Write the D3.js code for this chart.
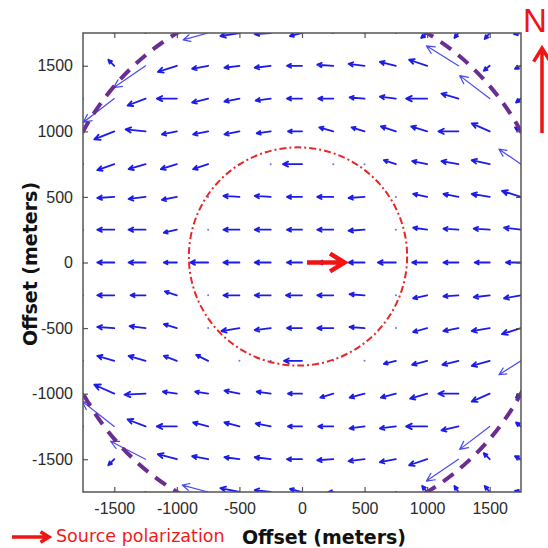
<!DOCTYPE html>
<html>
<head>
<meta charset="utf-8">
<script src="https://cdn.jsdelivr.net/npm/d3@7/dist/d3.min.js"></script>
<style>
  body { margin: 0; background: #fff; }
</style>
</head>
<body>
<div id="chart"></div>
<script>
// grid of the quiver (meters)
const xGrid = [-1750, -1500, -1250, -1000, -750, -500, -250, 0, 250, 500, 750, 1000, 1250, 1500, 1750];
const yGrid = [1750, 1500, 1250, 1000, 750, 500, 250, 0, -250, -500, -750, -1000, -1250, -1500, -1750];

// east component of each arrow (meters), one row per yGrid value
const uRows = [
  [-128, -48, -64, -80, -200, -152, -128, -96, -80, -64, -48, -48, -32, -40, -56],
  [-128, -48, -256, -152, -128, -120, -128, -120, -128, -128, -128, -144, -256, -48, -48],
  [-128, -248, -144, -160, -128, -120, -120, -120, -120, -120, -128, -168, -136, -240, -40],
  [-128, -160, -160, -120, -120, -120, -112, -112, -112, -104, -120, -128, -160, -144, -48],
  [-128, -136, -136, -128, -120, -8, -8, -152, -8, -8, -96, -120, -136, -144, -176],
  [-128, -136, -136, -120, -8, -128, -128, -120, -128, -128, -8, -112, -120, -144, -152],
  [-128, -136, -136, -104, -8, -128, -128, -120, -128, -128, -8, -112, -120, -128, -136],
  [-128, -136, -136, -104, -144, -128, -128, -120, -120, -128, -144, -120, -120, -120, -120],
  [-128, -136, -120, -96, -8, -128, -128, -128, -128, -120, -8, -112, -120, -128, -136],
  [-128, -136, -128, -104, -8, -144, -128, -120, -128, -120, -8, -112, -120, -144, -152],
  [-128, -136, -136, -104, -96, -8, -8, -144, -8, -8, -96, -120, -128, -144, -176],
  [-128, -160, -168, -112, -104, -120, -112, -112, -104, -120, -120, -136, -160, -144, -40],
  [-128, -256, -144, -160, -120, -120, -120, -112, -120, -120, -128, -168, -136, -240, -40],
  [-128, -48, -280, -152, -128, -120, -128, -120, -128, -128, -128, -144, -256, -48, -48],
  [-128, -48, -64, -80, -208, -152, -128, -96, -40, -64, -48, -40, -32, -40, -48]
];

// north component of each arrow (meters)
const vRows = [
  [0, 61, 61, 46, -53, -23, -8, -23, 30, 46, 61, -38, -38, -46, -8],
  [0, 46, -167, -46, -23, -15, -15, 0, 8, 15, 30, 46, 152, -38, -23],
  [0, -182, -53, 0, -30, -23, -15, 0, 0, 8, 15, 0, 38, 175, -30],
  [0, -61, 15, -23, -23, -23, -15, 0, 30, 30, 38, 38, 0, 61, 30],
  [0, -46, -38, -38, -38, 0, 0, 0, 0, 0, 30, 23, 23, 30, 114],
  [0, -8, -15, -23, 0, 8, 8, 0, 0, -8, 0, 23, 23, 23, 46],
  [0, 0, 0, -23, 0, 0, 0, 0, 0, -8, 0, 15, 8, 8, 15],
  [0, 0, 0, 0, 0, 0, 0, 0, 0, 0, 0, 0, 0, 0, 0],
  [0, 0, 0, 30, 0, 0, 0, 0, 0, 8, 0, -23, -8, -15, -23],
  [0, 8, 15, 30, 0, -23, -15, 0, 0, 8, 0, -30, -23, -23, -46],
  [0, 38, 38, 38, 46, 0, 0, 0, 0, 0, -23, -30, -30, -38, -106],
  [0, 68, -8, 15, 15, 23, 15, 0, -30, -30, -30, -38, 0, -61, -30],
  [0, 190, 53, 0, 30, 30, 23, 0, 0, -15, -15, 0, -30, -175, 30],
  [0, -46, 137, 38, 23, 15, 15, 0, -8, -15, -23, -46, -167, 46, 23],
  [0, -61, -61, -46, 53, 30, 15, 23, 0, -46, -61, 46, 46, 46, 8]
];

const xTicks = [-1500, -1000, -500, 0, 500, 1000, 1500];
const yTicks = [-1500, -1000, -500, 0, 500, 1000, 1500];

// source polarization arrow (meters, along y = 0)
const sourceArrow = { x0: 40, x1: 340, y: 0 };
// dash-dot source zone and dashed ring (meters)
const sourceZone = { cx: -32, cy: 46, rx: 872, ry: 832 };
const ringRadius = 2015;

const width = 548, height = 548;
const margin = { top: 33, right: 27, bottom: 56, left: 83 };

const svg = d3.select("#chart").append("svg")
    .attr("width", width)
    .attr("height", height)
    .style("font-family", "'Liberation Sans', Arial, sans-serif");

const x = d3.scaleLinear().domain([-1750, 1750]).range([margin.left, width - margin.right]);
const y = d3.scaleLinear().domain([-1750, 1750]).range([height - margin.bottom, margin.top]);

svg.append("defs").append("clipPath").attr("id", "plotClip")
  .append("rect")
    .attr("x", x(-1750)).attr("y", y(1750))
    .attr("width", x(1750) - x(-1750)).attr("height", y(-1750) - y(1750));

const plot = svg.append("g").attr("clip-path", "url(#plotClip)");

// flatten the quiver
const cells = [];
yGrid.forEach((yy, j) => {
  xGrid.forEach((xx, i) => {
    cells.push({ x: xx, y: yy, u: uRows[j][i], v: vRows[j][i] });
  });
});

function arrowPath(d) {
  const x0 = x(d.x), y0 = y(d.y);
  const x1 = x(d.x + d.u), y1 = y(d.y + d.v);
  const len = Math.hypot(x1 - x0, y1 - y0);
  const a = Math.atan2(y1 - y0, x1 - x0);
  const h = Math.max(4, Math.min(9, len * 0.3));
  const s = 0.45;
  const hx1 = x1 - h * Math.cos(a - s), hy1 = y1 - h * Math.sin(a - s);
  const hx2 = x1 - h * Math.cos(a + s), hy2 = y1 - h * Math.sin(a + s);
  return `M${x0},${y0}L${x1},${y1}M${hx1},${hy1}L${x1},${y1}L${hx2},${hy2}`;
}

const pxLen = d => Math.hypot(x(d.x + d.u) - x(d.x), y(d.y + d.v) - y(d.y));

// tiny vectors show as dots
plot.append("g")
  .selectAll("circle")
  .data(cells.filter(d => pxLen(d) < 3))
  .join("circle")
    .attr("cx", d => x(d.x))
    .attr("cy", d => y(d.y))
    .attr("r", 1)
    .attr("fill", "#7070f0");

plot.append("g")
    .attr("fill", "none")
    .attr("stroke-linecap", "round")
    .attr("stroke-linejoin", "round")
  .selectAll("path")
  .data(cells.filter(d => pxLen(d) >= 3))
  .join("path")
    .attr("d", arrowPath)
    .attr("stroke", d => pxLen(d) > 25 ? "#4a4af0" : "#1c1ce6")
    .attr("stroke-width", d => pxLen(d) > 25 ? 1.2 : 1.8);

// dashed purple ring
plot.append("ellipse")
    .attr("cx", x(0)).attr("cy", y(0))
    .attr("rx", x(ringRadius) - x(0))
    .attr("ry", y(0) - y(ringRadius))
    .attr("fill", "none")
    .attr("stroke", "#6b2d90")
    .attr("stroke-width", 4)
    .attr("stroke-dasharray", "13,9");

// dash-dot source zone
plot.append("ellipse")
    .attr("cx", x(sourceZone.cx)).attr("cy", y(sourceZone.cy))
    .attr("rx", x(sourceZone.rx) - x(0))
    .attr("ry", y(0) - y(sourceZone.ry))
    .attr("fill", "none")
    .attr("stroke", "#e82626")
    .attr("stroke-width", 2)
    .attr("stroke-dasharray", "7,3,2,3");

// red arrow helper (open V head)
function bigArrow(g, x0, y0, x1, y1, w, h) {
  const a = Math.atan2(y1 - y0, x1 - x0);
  const s = 0.55;
  g.append("path")
    .attr("d", `M${x0},${y0}L${x1},${y1}M${x1 - h * Math.cos(a - s)},${y1 - h * Math.sin(a - s)}L${x1},${y1}L${x1 - h * Math.cos(a + s)},${y1 - h * Math.sin(a + s)}`)
    .attr("fill", "none")
    .attr("stroke", "#f01414")
    .attr("stroke-width", w)
    .attr("stroke-linejoin", "miter")
    .attr("stroke-linecap", "butt");
}
bigArrow(svg, x(sourceArrow.x0), y(sourceArrow.y), x(sourceArrow.x1), y(sourceArrow.y), 4.5, 17);

// axes box
const axisColor = "#555";
svg.append("rect")
    .attr("x", x(-1750)).attr("y", y(1750))
    .attr("width", x(1750) - x(-1750)).attr("height", y(-1750) - y(1750))
    .attr("fill", "none")
    .attr("stroke", axisColor)
    .attr("stroke-width", 1.5);

const fmt = d => String(d);
const tickLen = 5;

const xAxisB = svg.append("g")
    .attr("transform", `translate(0,${y(-1750)})`)
    .call(d3.axisBottom(x).tickValues(xTicks).tickFormat(fmt).tickSizeInner(-tickLen).tickSizeOuter(0).tickPadding(11));
const xAxisT = svg.append("g")
    .attr("transform", `translate(0,${y(1750)})`)
    .call(d3.axisTop(x).tickValues(xTicks).tickFormat("").tickSizeInner(-tickLen).tickSizeOuter(0));
const yAxisL = svg.append("g")
    .attr("transform", `translate(${x(-1750)},0)`)
    .call(d3.axisLeft(y).tickValues(yTicks).tickFormat(fmt).tickSizeInner(-tickLen).tickSizeOuter(0).tickPadding(10));
const yAxisR = svg.append("g")
    .attr("transform", `translate(${x(1750)},0)`)
    .call(d3.axisRight(y).tickValues(yTicks).tickFormat("").tickSizeInner(-tickLen).tickSizeOuter(0));

[xAxisB, xAxisT, yAxisL, yAxisR].forEach(g => {
  g.select(".domain").remove();
  g.selectAll("line").attr("stroke", axisColor).attr("stroke-width", 1.2);
  g.selectAll("text")
    .attr("fill", "#2a2a2a")
    .style("font-family", "'Liberation Sans Narrow', 'Arial Narrow', 'Liberation Sans', sans-serif")
    .style("font-size", "16px");
});

// axis titles
svg.append("text")
    .attr("x", 324).attr("y", 544)
    .attr("text-anchor", "middle")
    .style("font-family", "'DejaVu Sans', Verdana, sans-serif")
    .style("font-weight", "bold")
    .style("font-size", "19px")
    .attr("fill", "#111")
    .text("Offset (meters)");

svg.append("text")
    .attr("transform", "translate(37,264) rotate(-90)")
    .attr("text-anchor", "middle")
    .style("font-family", "'DejaVu Sans', Verdana, sans-serif")
    .style("font-weight", "bold")
    .style("font-size", "19px")
    .attr("fill", "#111")
    .text("Offset (meters)");

// legend
bigArrow(svg, 12, 537, 49, 537, 3.5, 10);
svg.append("text")
    .attr("x", 56).attr("y", 542)
    .style("font-family", "'DejaVu Sans', Verdana, sans-serif")
    .style("font-size", "17.5px")
    .attr("fill", "#f01a1a")
    .text("Source polarization");

// north marker
svg.append("text")
    .attr("x", 523).attr("y", 32)
    .style("font-family", "'Liberation Sans', Arial, sans-serif")
    .style("font-size", "33px")
    .attr("fill", "#f01414")
    .text("N");
bigArrow(svg, 542, 133, 542, 48, 3.5, 16);
</script>
</body>
</html>
